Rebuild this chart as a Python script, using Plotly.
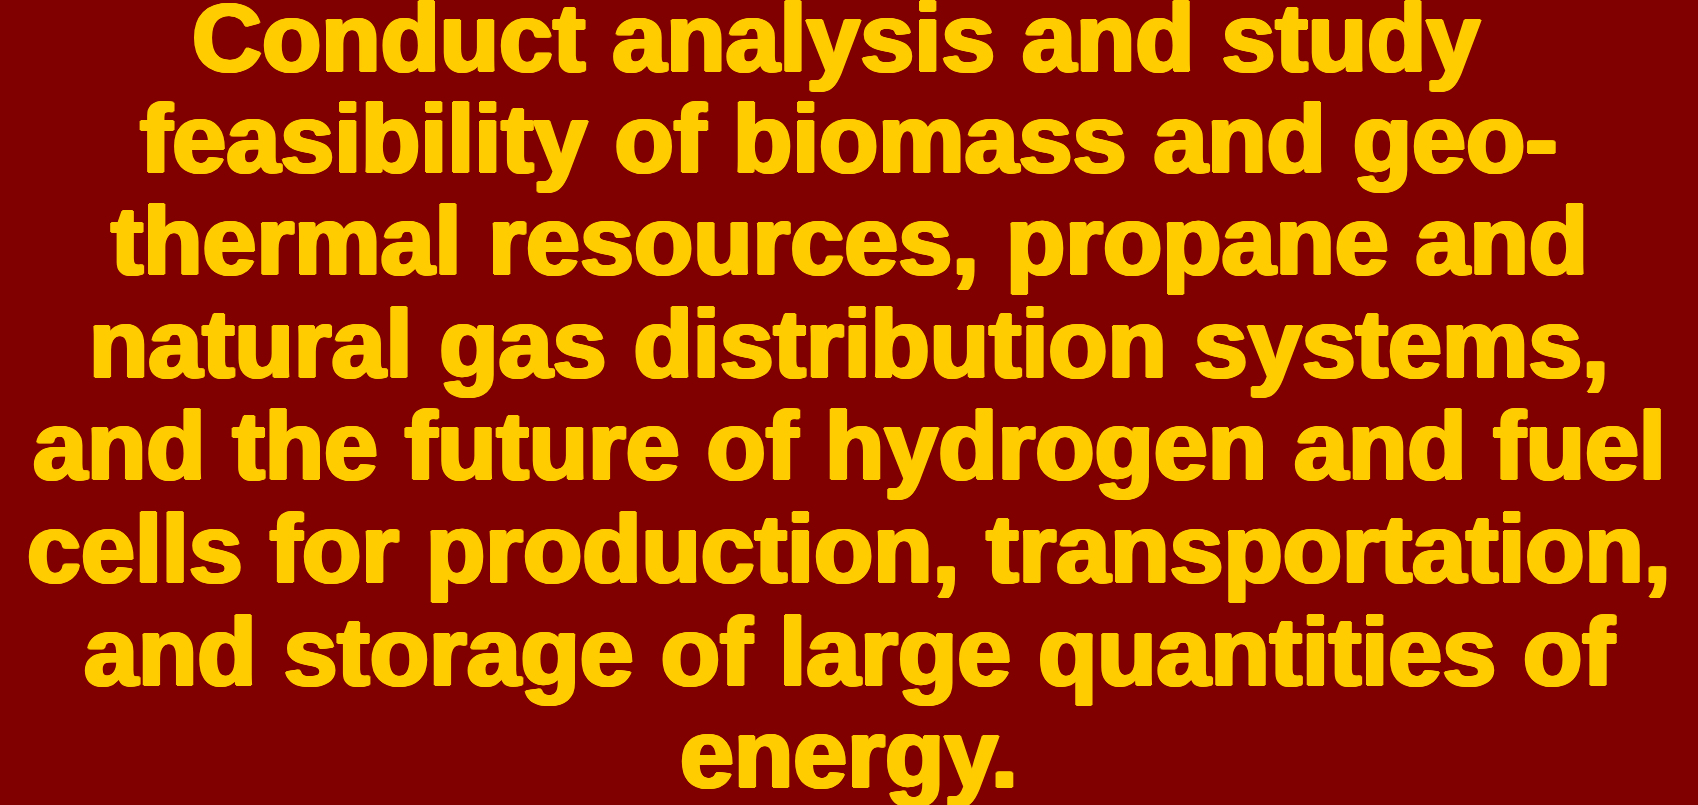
import plotly.graph_objects as go

text_lines = [
    "Conduct analysis and study ",
    "feasibility of biomass and geo-",
    "thermal resources, propane and",
    "natural gas distribution systems,",
    "and the future of hydrogen and fuel",
    "cells for production, transportation,",
    "and storage of large quantities of",
    "energy.",
]

BG = "#800000"
FG = "#FFCC00"
W, H = 1698, 805
FONT_SIZE = 97
baselines_px = [74, 175, 277, 380, 482, 585, 688, 790]

stroke = ", ".join([
    f"{dx}px {dy}px 0 {FG}"
    for dx, dy in [(2, 0), (-2, 0), (0, 1), (0, -1), (1, 1), (-1, -1), (1, -1), (-1, 1)]
])

fig = go.Figure()
for txt, base in zip(text_lines, baselines_px):
    yc = base - 0.5 * FONT_SIZE + 12
    fig.add_annotation(
        text=txt,
        x=0.5, y=1 - yc / H, xref="paper", yref="paper",
        xanchor="center", yanchor="middle", showarrow=False,
        font=dict(family="Arial Black, Liberation Sans, Arial, sans-serif",
                  size=FONT_SIZE, color=FG, weight="bold", shadow=stroke),
    )

fig.update_layout(
    width=W, height=H,
    margin=dict(l=0, r=0, t=0, b=0),
    paper_bgcolor=BG, plot_bgcolor=BG,
    xaxis=dict(visible=False), yaxis=dict(visible=False),
    showlegend=False,
)
fig.write_html(
    "out.html",
    config={"displayModeBar": False},
    post_script="document.body.style.margin='0';document.body.style.overflow='hidden';document.body.style.background='#800000';",
)
